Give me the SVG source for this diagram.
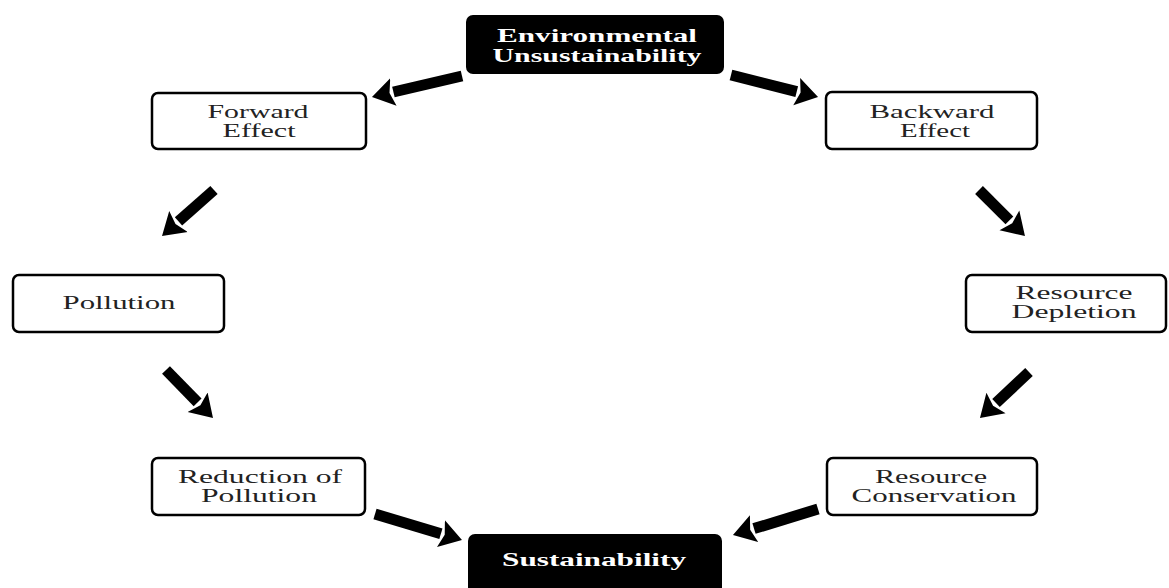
<svg xmlns="http://www.w3.org/2000/svg" width="1169" height="588" viewBox="0 0 1169 588">
<style>
.box{fill:#fff;stroke:#000;stroke-width:2.5}
.dark{fill:#000;stroke:#000;stroke-width:2}
.t{font-family:"Liberation Serif","Times New Roman",serif;font-size:18px;fill:#222;text-anchor:middle}
.tb{font-family:"Liberation Serif","Times New Roman",serif;font-size:18px;font-weight:bold;fill:#fff;text-anchor:middle}
.arr{stroke:#000;stroke-width:11;fill:none;marker-end:url(#head)}
</style>
<defs>
<marker id="head" markerUnits="userSpaceOnUse" markerWidth="24" markerHeight="30" refX="0" refY="14" orient="auto" viewBox="0 0 24 28">
<path d="M0,0 L22,14 L0,28 L4,14 Z" fill="#000"/>
</marker>
</defs>
<rect width="1169" height="588" fill="#fff"/>
<g id="connectors">
<line class="arr" x1="462" y1="76" x2="393.4" y2="92"/>
<line class="arr" x1="731" y1="75" x2="796.7" y2="91.6"/>
<line class="arr" x1="214" y1="190" x2="178.5" y2="221.4"/>
<line class="arr" x1="979" y1="190" x2="1009.4" y2="220.4"/>
<line class="arr" x1="166" y1="370" x2="197.6" y2="402.3"/>
<line class="arr" x1="1029" y1="372" x2="996" y2="403"/>
<line class="arr" x1="375" y1="514" x2="440.9" y2="533.7"/>
<line class="arr" x1="818" y1="509" x2="754" y2="528.6"/>
</g>
<g id="env">
<rect class="dark" x="467" y="16" width="256" height="57" rx="6"/>
<text class="tb" transform="translate(597,42) scale(1.6,1)" textLength="125" lengthAdjust="spacingAndGlyphs">Environmental</text>
<text class="tb" transform="translate(597,62) scale(1.6,1)" textLength="130.6" lengthAdjust="spacingAndGlyphs">Unsustainability</text>
</g>
<g id="forward">
<rect class="box" x="152" y="93" width="214" height="56" rx="6"/>
<text class="t" transform="translate(258,118) scale(1.6,1)" textLength="63.1" lengthAdjust="spacingAndGlyphs">Forward</text>
<text class="t" transform="translate(259,137) scale(1.6,1)" textLength="45.6" lengthAdjust="spacingAndGlyphs">Effect</text>
</g>
<g id="backward">
<rect class="box" x="826" y="92" width="211" height="57" rx="6"/>
<text class="t" transform="translate(932,118) scale(1.6,1)" textLength="78.1" lengthAdjust="spacingAndGlyphs">Backward</text>
<text class="t" transform="translate(935,137) scale(1.6,1)" textLength="43.75" lengthAdjust="spacingAndGlyphs">Effect</text>
</g>
<g id="pollution">
<rect class="box" x="13" y="275" width="211" height="57" rx="6"/>
<text class="t" transform="translate(119,309) scale(1.6,1)" textLength="70.6" lengthAdjust="spacingAndGlyphs">Pollution</text>
</g>
<g id="depletion">
<rect class="box" x="966" y="275" width="200" height="57" rx="6"/>
<text class="t" transform="translate(1074,299) scale(1.6,1)" textLength="73.1" lengthAdjust="spacingAndGlyphs">Resource</text>
<text class="t" transform="translate(1074,318) scale(1.6,1)" textLength="78.1" lengthAdjust="spacingAndGlyphs">Depletion</text>
</g>
<g id="reduction">
<rect class="box" x="152" y="458" width="213" height="57" rx="6"/>
<text class="t" transform="translate(260,483) scale(1.6,1)" textLength="102.5" lengthAdjust="spacingAndGlyphs">Reduction of</text>
<text class="t" transform="translate(259,502) scale(1.6,1)" textLength="72.5" lengthAdjust="spacingAndGlyphs">Pollution</text>
</g>
<g id="sustainability">
<rect class="dark" x="469" y="535" width="252" height="60" rx="6"/>
<text class="tb" transform="translate(594,566) scale(1.6,1)" textLength="115" lengthAdjust="spacingAndGlyphs">Sustainability</text>
</g>
<g id="conservation">
<rect class="box" x="827" y="458" width="210" height="57" rx="6"/>
<text class="t" transform="translate(931,483) scale(1.6,1)" textLength="70" lengthAdjust="spacingAndGlyphs">Resource</text>
<text class="t" transform="translate(934,502) scale(1.6,1)" textLength="103.1" lengthAdjust="spacingAndGlyphs">Conservation</text>
</g>
</svg>
